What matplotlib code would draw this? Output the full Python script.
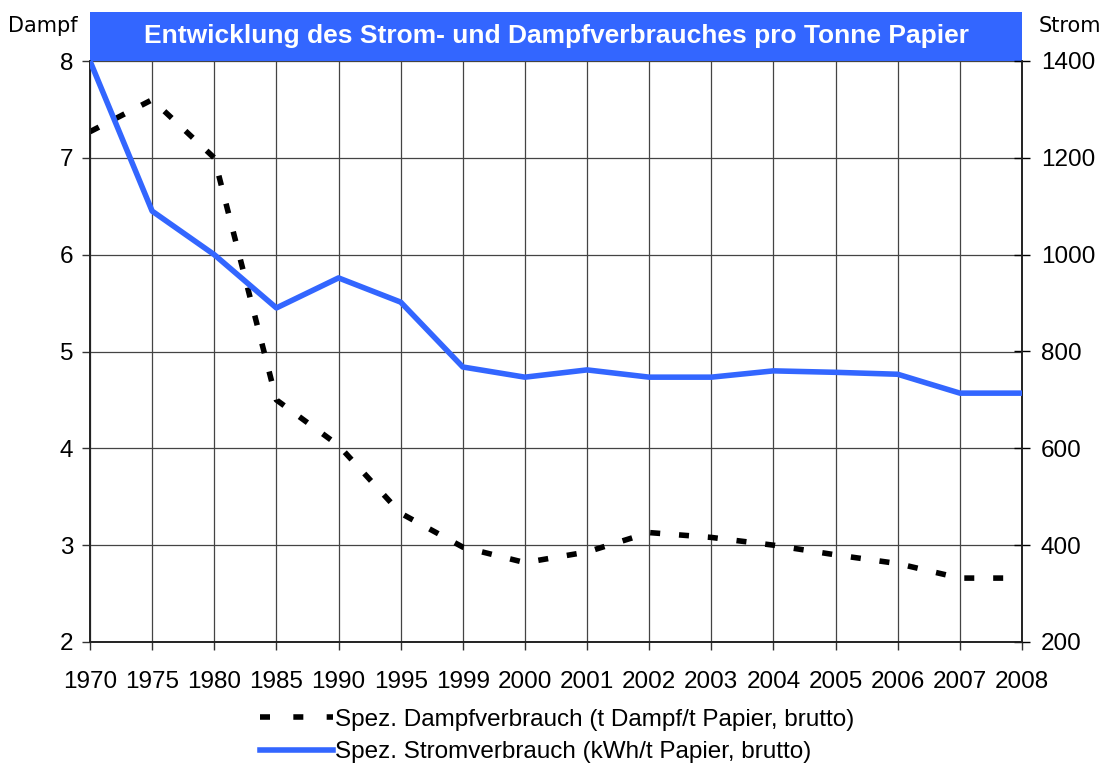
import numpy as np
import matplotlib.pyplot as plt
from matplotlib.patches import Rectangle
from matplotlib.lines import Line2D

plt.rcParams['font.family'] = ['Liberation Sans', 'DejaVu Sans']

years = ['1970', '1975', '1980', '1985', '1990', '1995', '1999', '2000',
         '2001', '2002', '2003', '2004', '2005', '2006', '2007', '2008']
dampf = [7.27, 7.6, 7.0, 4.5, 4.03, 3.33, 2.98, 2.82,
         2.93, 3.13, 3.08, 3.0, 2.9, 2.81, 2.66, 2.66]
strom = [1400, 1090, 1000, 890, 952, 902, 768, 747,
         762, 747, 747, 760, 757, 753, 714, 714]

left_ticks = [2, 3, 4, 5, 6, 7, 8]
right_ticks = [200, 400, 600, 800, 1000, 1200, 1400]

title = 'Entwicklung des Strom- und Dampfverbrauches pro Tonne Papier'
label_dampf = 'Spez. Dampfverbrauch (t Dampf/t Papier, brutto)'
label_strom = 'Spez. Stromverbrauch (kWh/t Papier, brutto)'

blue = '#3366ff'
lw = 4.0
dash = (1.8, 3.4)

fig = plt.figure(figsize=(11.06, 7.64), dpi=100)
ax = fig.add_axes([90 / 1106, 1 - 642 / 764, 932 / 1106, 581 / 764])
ax2 = ax.twinx()

x = np.arange(len(years))

ax.plot(x, dampf, color='black', lw=lw, dashes=dash, dash_capstyle='butt', zorder=3)
ax2.plot(x, strom, color=blue, lw=lw, zorder=3)

ax.set_xlim(0, len(years) - 1)
ax.set_ylim(2, 8)
ax2.set_ylim(200, 1400)
ax.set_yticks(left_ticks)
ax2.set_yticks(right_ticks)
ax.set_xticks(x)
ax.set_xticklabels(years)

ax.grid(True, color='#444444', lw=0.9)
ax.set_axisbelow(True)

ax.tick_params(axis='both', labelsize=17.5, length=6, width=1, color='#333333')
ax.tick_params(axis='x', pad=15)
ax.tick_params(axis='y', pad=6)
ax2.tick_params(axis='y', labelsize=17.5, length=11, direction='inout', width=1, pad=8)

for a in (ax, ax2):
    a.spines['top'].set_visible(False)
    for s in ('left', 'right', 'bottom'):
        a.spines[s].set_linewidth(1.2)
        a.spines[s].set_color('#222222')

# title box
h = 49 / 581
ax.add_patch(Rectangle((0, 1), 1, h, transform=ax.transAxes, facecolor=blue,
                       edgecolor='none', clip_on=False, zorder=5))
ax.text(0.5, 1 + h / 2, title, transform=ax.transAxes, ha='center', va='center',
        color='white', fontsize=19, fontweight='bold', zorder=6)

fig.text(8 / 1106, 1 - 26 / 764, 'Dampf', ha='left', va='center',
         fontsize=15, family='DejaVu Sans')
fig.text(1101 / 1106, 1 - 26 / 764, 'Strom', ha='right', va='center',
         fontsize=15, family='DejaVu Sans')

handles = [Line2D([], [], color='black', lw=lw, dashes=(1.8, 4.2), dash_capstyle='butt'),
           Line2D([], [], color=blue, lw=lw)]
fig.legend(handles, [label_dampf, label_strom], loc='center',
           bbox_to_anchor=(557 / 1106, 1 - 736 / 764), frameon=False,
           fontsize=17.5, handlelength=3.0, handletextpad=0.1, labelspacing=0.45,
           borderpad=0.2)

fig.savefig('out.png', dpi=100)
